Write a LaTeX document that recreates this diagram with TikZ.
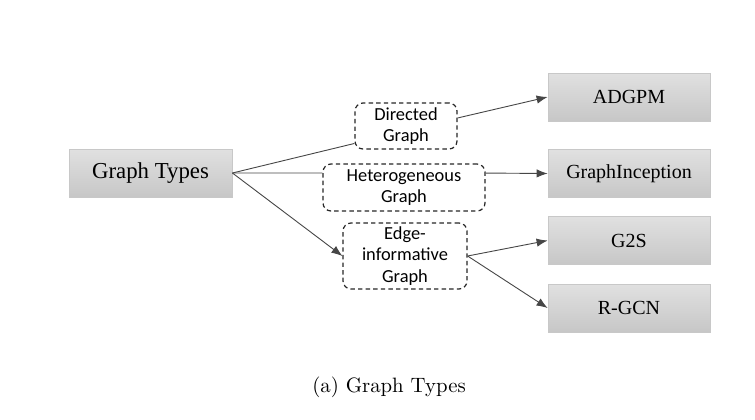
\documentclass[tikz,border=0pt]{standalone}
\usepackage{fontspec}
\newfontfamily\boxfont{Liberation Serif}
\newfontfamily\tagfont{Carlito}
\usetikzlibrary{positioning,calc,arrows.meta,shadings}

\definecolor{boxedge}{RGB}{200,200,200}
\definecolor{wire}{RGB}{70,70,70}

\tikzset{
    typebox/.style={draw=boxedge, line width=0.4pt, top color=black!12, bottom color=black!22,
        minimum width=81pt, minimum height=24pt, inner sep=0pt, font=\boxfont\fontsize{10}{12}\selectfont},
    tagbox/.style={draw=black!85, line width=0.6pt, dash pattern=on 2.2pt off 1.6pt, rounded corners=4pt,
        inner sep=0pt, align=center, font=\tagfont\fontsize{9.2}{10.8}\selectfont},
    wireline/.style={draw=wire, line width=0.45pt},
    wirearrow/.style={wireline, -{Latex[length=5.5pt,width=4.2pt]}}
}

\begin{document}
\begin{tikzpicture}[x=0.5pt, y=-0.5pt]
    % Frame (pixel units)
    \useasboundingbox (0,0) rectangle (755,419);

    % Root
    \node[typebox, minimum width=81.5pt, font=\boxfont\fontsize{11.4}{13}\selectfont] (GT) at (150.5,173) {Graph Types};

    % Graph kinds
    \node[tagbox, minimum width=51pt, minimum height=23pt] (DG) at (406,126) {Directed\\Graph};
    \node[tagbox, minimum width=81pt, minimum height=23.5pt] (HG) at (404,187.5) {Heterogeneous\\Graph};
    \node[tagbox, minimum width=62pt, minimum height=33pt] (EG) at (405,256) {Edge-\\informative\\Graph};

    % Models
    \node[typebox] (AD) at (629,97) {ADGPM};
    \node[typebox] (GI) at (629,173.5) {GraphInception};
    \node[typebox] (GS) at (629,240.5) {G2S};
    \node[typebox] (RG) at (629,308) {R-GCN};

    % Connections from root
    \draw[wireline] (GT.east) -- ($(DG.south west)!0.13!(DG.north west)$);
    \draw[wireline] (GT.east) -- ($(HG.north west)!0.2!(HG.south west)$);
    \draw[wirearrow] (GT.east) -- (EG.west);

    % Connections to models
    \draw[wirearrow] ($(DG.north east)!0.33!(DG.south east)$) -- (AD.west);
    \draw[wirearrow] ($(HG.north east)!0.2!(HG.south east)$) -- (GI.west);
    \draw[wirearrow] (EG.east) -- (GS.west);
    \draw[wirearrow] (EG.east) -- (RG.west);

    % Caption
    \node[font=\fontsize{10.4}{12}\selectfont] (cap) at (389,387) {(a) Graph Types};
\end{tikzpicture}
\end{document}
